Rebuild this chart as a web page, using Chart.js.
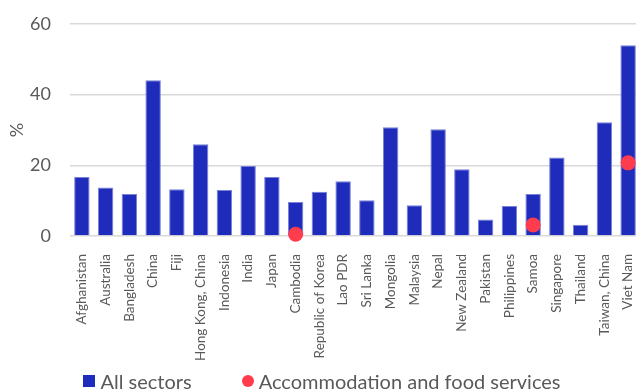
<!DOCTYPE html>
<html>
<head>
<meta charset="utf-8">
<script src="https://cdn.jsdelivr.net/npm/chart.js@4.4.1/dist/chart.umd.min.js"></script>
<style>
  html, body { margin: 0; padding: 0; background: #fff; }
  #wrap { position: relative; width: 636px; height: 390px; overflow: hidden; }
  #chart-box { position: absolute; left: 0; top: 0; width: 640px; height: 390px; }
  #legend {
    position: absolute; left: 2px; top: 370px; width: 640px; height: 22px;
    display: flex; justify-content: center; align-items: center;
    font-family: Lato, sans-serif; font-size: 20px; color: #595959;
  }
  .item { display: flex; align-items: center; }
  .swatch { width: 12px; height: 12px; margin-right: 5px; }
  .gap { width: 50px; }
</style>
</head>
<body>
<div id="wrap">
  <div id="chart-box"><canvas id="chart"></canvas></div>
  <div id="legend"></div>
</div>
<script>
const categories = [
  'Afghanistan', 'Australia', 'Bangladesh', 'China', 'Fiji', 'Hong Kong, China',
  'Indonesia', 'India', 'Japan', 'Cambodia', 'Republic of Korea', 'Lao PDR',
  'Sri Lanka', 'Mongolia', 'Malaysia', 'Nepal', 'New Zealand', 'Pakistan',
  'Philippines', 'Samoa', 'Singapore', 'Thailand', 'Taiwan, China', 'Viet Nam'
];
const allSectors = [
  16.7, 13.7, 11.9, 44.1, 13.2, 26.0, 13.0, 19.8, 16.7, 9.6, 12.5, 15.5,
  10.1, 30.8, 8.7, 30.2, 18.9, 4.7, 8.5, 11.9, 22.2, 3.2, 32.2, 54.0
];
const accommodation = [
  null, null, null, null, null, null, null, null, null, 0.5, null, null,
  null, null, null, null, null, null, null, 3.1, null, null, null, 20.7
];
const yTicks = [0, 20, 40, 60];

const barColor = '#1e2bbb';
const dotColor = '#ff3c4e';
const textColor = '#595959';

const legendItems = [
  { label: 'All sectors', color: barColor, round: false },
  { label: 'Accommodation and food services', color: dotColor, round: true },
];

const legend = document.getElementById('legend');
legendItems.forEach((item, i) => {
  if (i > 0) {
    const gap = document.createElement('span');
    gap.className = 'gap';
    legend.appendChild(gap);
  }
  const el = document.createElement('span');
  el.className = 'item';
  el.innerHTML = `<span class="swatch" style="background:${item.color};border-radius:${item.round ? '50%' : '0'}"></span>${item.label}`;
  legend.appendChild(el);
});

new Chart(document.getElementById('chart'), {
  data: {
    labels: categories,
    datasets: [
      {
        type: 'line',
        label: 'Accommodation and food services',
        data: accommodation,
        showLine: false,
        pointRadius: 7.5,
        pointHoverRadius: 7.5,
        pointBackgroundColor: dotColor,
        pointBorderWidth: 0,
        clip: false,
        order: 0,
      },
      {
        type: 'bar',
        label: 'All sectors',
        data: allSectors,
        backgroundColor: barColor,
        borderColor: '#7880d8',
        borderWidth: 1,
        barPercentage: 0.65,
        categoryPercentage: 1,
        order: 1,
      },
    ],
  },
  options: {
    responsive: true,
    maintainAspectRatio: false,
    animation: false,
    layout: { autoPadding: false, padding: { top: 24, left: 6, right: 0, bottom: 24 } },
    plugins: {
      legend: { display: false },
      tooltip: { enabled: false },
    },
    scales: {
      x: {
        grid: { display: false },
        border: { display: false },
        ticks: {
          color: textColor,
          font: { family: 'Lato', size: 13.5 },
          minRotation: 90,
          maxRotation: 90,
          autoSkip: false,
          padding: 10,
        },
        afterFit: (scale) => {
          scale.height = 130;
          scale.paddingLeft = 0;
          scale.paddingRight = 0;
        },
      },
      y: {
        min: 0,
        max: 60,
        afterBuildTicks: (scale) => { scale.ticks = yTicks.map((v) => ({ value: v })); },
        grid: { color: '#d9d9d9', lineWidth: 1.5, drawTicks: false },
        border: { display: false },
        ticks: {
          color: textColor,
          font: { family: 'Lato', size: 18 },
          padding: 19,
        },
        title: {
          display: true,
          text: '%',
          color: textColor,
          font: { family: 'Lato', size: 18 },
          padding: 0,
        },
        afterFit: (scale) => {
          scale.width = 64;
          scale.paddingTop = 0;
          scale.paddingBottom = 0;
        },
      },
    },
  },
});
</script>
</body>
</html>
